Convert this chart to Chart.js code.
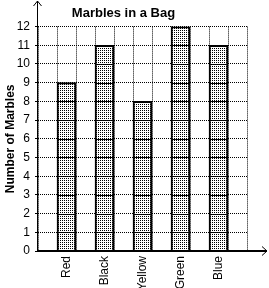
<!DOCTYPE html>
<html>
<head>
<meta charset="utf-8">
<script src="https://cdn.jsdelivr.net/npm/chart.js@4/dist/chart.umd.min.js"></script>
<style>
  html, body { margin: 0; padding: 0; background: #fff; }
  canvas { display: block; }
</style>
</head>
<body>
<canvas id="chart" width="269" height="288"></canvas>
<script>
// ── Data ──
const categories = ['Red', 'Black', 'Yellow', 'Green', 'Blue'];
const marbles    = [9, 11, 8, 12, 11];
const yMin = 0, yMax = 12, yStep = 1;

// bars sit in every other cell, with an empty cell before and after each
const slotLabels = [];
const slotValues = [];
categories.forEach((c, i) => {
  slotLabels.push('', c);
  slotValues.push(null, marbles[i]);
});
slotLabels.push('');
slotValues.push(null);

const FONT = 'Liberation Sans, Arial, sans-serif';
const canvas = document.getElementById('chart');
const ctx = canvas.getContext('2d');

// stippled fill like the original
const tile = document.createElement('canvas');
tile.width = 2; tile.height = 2;
const tc = tile.getContext('2d');
tc.fillStyle = '#fff'; tc.fillRect(0, 0, 2, 2);
tc.fillStyle = '#000'; tc.fillRect(0, 0, 1, 1);
const stipple = ctx.createPattern(tile, 'repeat');

// solid unit lines inside bars + axis arrows
const decor = {
  id: 'decor',
  afterDatasetsDraw(chart) {
    const { ctx, scales: { y } } = chart;
    const meta = chart.getDatasetMeta(0);
    ctx.save();
    ctx.strokeStyle = '#000';
    ctx.lineWidth = 1;
    meta.data.forEach((bar, i) => {
      const v = slotValues[i];
      if (v == null) return;
      const half = bar.width / 2;
      for (let k = 1; k < v; k++) {
        const py = Math.round(y.getPixelForValue(k)) + 0.5;
        ctx.beginPath();
        ctx.moveTo(bar.x - half, py);
        ctx.lineTo(bar.x + half, py);
        ctx.stroke();
      }
    });
    ctx.restore();
  },
  afterDraw(chart) {
    const { ctx, chartArea: a } = chart;
    const x0 = Math.round(a.left) - 0.5;
    const y0 = Math.round(a.bottom);
    ctx.save();
    ctx.strokeStyle = '#000';
    ctx.lineWidth = 1;
    // y axis up to arrow
    ctx.beginPath();
    ctx.moveTo(x0, y0);
    ctx.lineTo(x0, 1);
    ctx.moveTo(x0 - 4, 6);
    ctx.lineTo(x0, 1);
    ctx.lineTo(x0 + 4, 6);
    ctx.stroke();
    // x axis out to arrow
    ctx.lineWidth = 2;
    ctx.beginPath();
    ctx.moveTo(x0, y0);
    ctx.lineTo(267, y0);
    ctx.stroke();
    ctx.lineWidth = 1;
    ctx.beginPath();
    ctx.moveTo(262, y0 - 4.5);
    ctx.lineTo(267, y0);
    ctx.lineTo(262, y0 + 4.5);
    ctx.stroke();
    ctx.restore();
  }
};

new Chart(canvas, {
  type: 'bar',
  data: {
    labels: slotLabels,
    datasets: [{
      data: slotValues,
      backgroundColor: stipple,
      borderColor: '#000',
      borderWidth: 2,
      borderSkipped: 'bottom',
      categoryPercentage: 1,
      barPercentage: 1,
    }],
  },
  options: {
    responsive: false,
    animation: false,
    devicePixelRatio: 1,
    layout: { padding: { top: 0, right: 22, left: 0, bottom: 0 } },
    plugins: {
      legend: { display: false },
      tooltip: { enabled: false },
      title: {
        display: true,
        text: 'Marbles in a Bag',
        color: '#000',
        font: { family: FONT, size: 13, weight: 'bold', lineHeight: 1.2 },
        padding: { top: 6, bottom: 5 },
      },
    },
    scales: {
      x: {
        offset: true,
        grid: { display: true, offset: true, color: '#000', lineWidth: 1, drawTicks: false },
        border: { display: false, dash: [1, 1] },
        ticks: {
          color: '#000', font: { family: FONT, size: 12 },
          minRotation: 90, maxRotation: 90, autoSkip: false, padding: 5,
        },
        afterFit: s => { s.height = 37; },
      },
      y: {
        min: yMin, max: yMax,
        grid: { color: '#000', lineWidth: 1, tickLength: 3 },
        border: { display: false, dash: [1, 1] },
        ticks: {
          stepSize: yStep, color: '#000', padding: 5,
          font: { family: FONT, size: 12 },
        },
        title: {
          display: true, text: 'Number of Marbles', color: '#000',
          font: { family: FONT, size: 12, weight: 'bold' },
          padding: { top: 3, bottom: 0 },
        },
        afterFit: s => { s.width = 38; },
      },
    },
  },
  plugins: [decor],
});
</script>
</body>
</html>
